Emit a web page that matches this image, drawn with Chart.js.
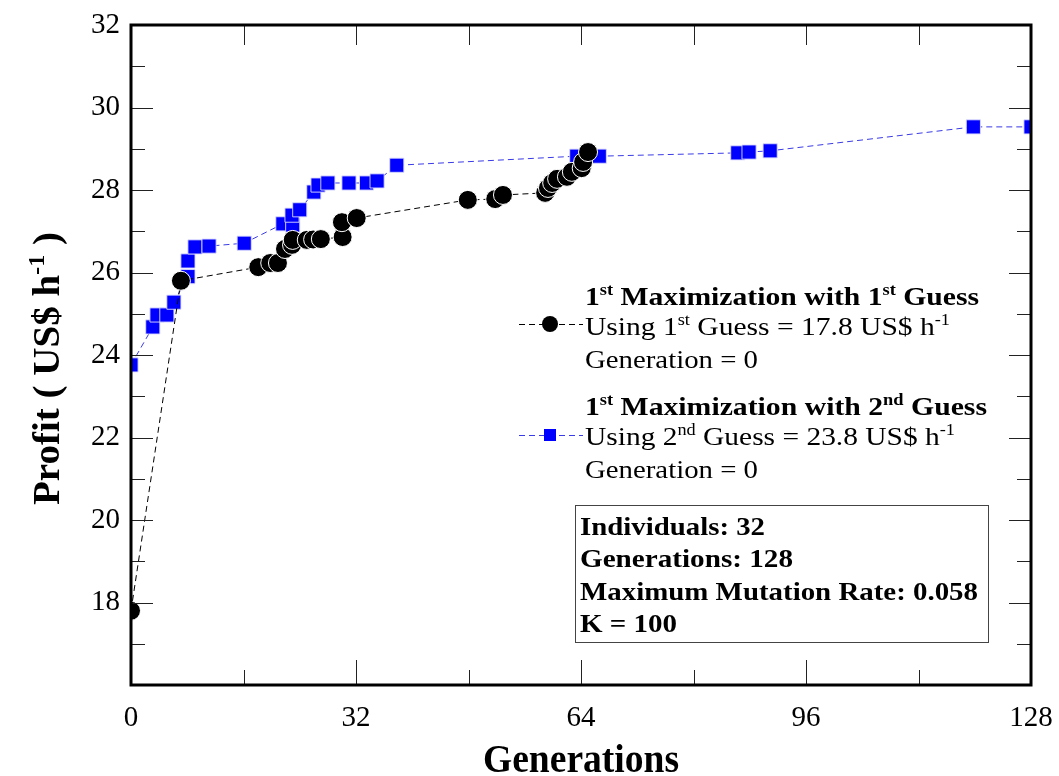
<!DOCTYPE html>
<html>
<head>
<meta charset="utf-8">
<title>Profit vs Generations</title>
<script src="https://cdn.jsdelivr.net/npm/chart.js@4.4.1/dist/chart.umd.min.js"></script>
<style>
    html, body { margin: 0; padding: 0; background: #fff; }
    #wrap { width: 1059px; height: 776px; }
</style>
</head>
<body>
<div id="wrap"><canvas id="profitChart" width="1059" height="776"></canvas></div>
<script>
// 1st maximization, started from the 1st guess (17.8 US$/h)
const gen1st = [0, 7.1, 18.1, 19.8, 20.9, 21.9, 22.9, 23.0, 25.0, 25.9, 27.0, 30.1, 30.0, 32.1,
    47.9, 51.8, 52.9, 58.9, 59.3, 59.9, 60.6, 62.0, 62.7, 64.1, 64.3, 65.0];
const profit1st = [17.8, 25.8, 26.13, 26.23, 26.23, 26.57, 26.67, 26.79, 26.79, 26.8, 26.81, 26.86, 27.22, 27.32,
    27.76, 27.78, 27.88, 27.93, 28.05, 28.17, 28.27, 28.32, 28.44, 28.53, 28.68, 28.92];

// 1st maximization, started from the 2nd guess (23.8 US$/h)
const gen2nd = [0, 3.1, 3.7, 5.1, 6.1, 8.1, 8.1, 9.1, 11.1, 16.1, 21.6, 23.0, 22.9, 24.0, 26.0, 26.6, 28.0,
    31.0, 33.5, 35.0, 37.8, 63.4, 66.6, 86.3, 87.9, 90.9, 119.8, 128];
const profit2nd = [23.76, 24.68, 24.97, 24.97, 25.28, 25.9, 26.28, 26.62, 26.64, 26.71, 27.18, 27.15, 27.39, 27.52,
    27.95, 28.12, 28.17, 28.17, 28.17, 28.22, 28.6, 28.82, 28.82, 28.9, 28.92, 28.95, 29.53, 29.53];

// axis tick labels
const xTicks = [0, 32, 64, 96, 128];
const yTicks = [18, 20, 22, 24, 26, 28, 30, 32];

const SERIF = '"Liberation Serif", "Times New Roman", serif';

// turns "1^{st} Guess" into [{t:'1'},{t:'st',sup:true},{t:' Guess'}]
function parseRich(str) {
    const parts = [];
    const re = /\^\{([^}]*)\}/g;
    let last = 0, m;
    while ((m = re.exec(str)) !== null) {
        if (m.index > last) parts.push({ t: str.slice(last, m.index) });
        parts.push({ t: m[1], sup: true });
        last = re.lastIndex;
    }
    if (last < str.length) parts.push({ t: str.slice(last) });
    return parts;
}

// draws text with superscripts, squeezed to a width if one is given
function drawRich(ctx, str, x, y, size, bold, width) {
    const parts = parseRich(str);
    const fontOf = p => (bold ? 'bold ' : '') + (p.sup ? size * 0.62 : size) + 'px ' + SERIF;
    const widths = parts.map(p => { ctx.font = fontOf(p); return ctx.measureText(p.t).width; });
    const total = widths.reduce((a, b) => a + b, 0);
    const sx = width ? width / total : 1;
    ctx.save();
    ctx.translate(x, y);
    ctx.scale(sx, 1);
    ctx.textAlign = 'left';
    ctx.textBaseline = 'alphabetic';
    ctx.fillStyle = '#000';
    let cx = 0;
    parts.forEach((p, i) => {
        ctx.font = fontOf(p);
        ctx.fillText(p.t, cx, p.sup ? -size * 0.4 : 0);
        cx += widths[i];
    });
    ctx.restore();
}

// frame, inward ticks, axis titles, legend and info box
const decorations = {
    id: 'decorations',
    afterDatasetsDraw(chart) {
        const ctx = chart.ctx;
        const area = chart.chartArea;
        const xs = chart.scales.x, ys = chart.scales.y;

        ctx.save();
        ctx.strokeStyle = '#222';
        ctx.lineWidth = 1;
        ctx.beginPath();
        for (let v = 17; v < 32; v++) {
            const py = Math.round(ys.getPixelForValue(v)) + 0.5;
            const len = v % 2 === 0 ? 22 : 14;
            ctx.moveTo(area.left, py); ctx.lineTo(area.left + len, py);
            ctx.moveTo(area.right, py); ctx.lineTo(area.right - len, py);
        }
        for (let v = 16; v < 128; v += 16) {
            const px = Math.round(xs.getPixelForValue(v)) + 0.5;
            const len = v % 32 === 0 ? 25 : 15;
            ctx.moveTo(px, area.bottom); ctx.lineTo(px, area.bottom - len);
            ctx.moveTo(px, area.top); ctx.lineTo(px, area.top + 20);
        }
        ctx.stroke();

        ctx.strokeStyle = '#000';
        ctx.lineWidth = 3;
        ctx.strokeRect(area.left, area.top, area.right - area.left, area.bottom - area.top);
        ctx.restore();

        // axis titles
        drawRich(ctx, 'Generations', (area.left + area.right) / 2 - 98, 772, 40, true, 196);
        ctx.save();
        ctx.translate(59, 505);
        ctx.rotate(-Math.PI / 2);
        drawRich(ctx, 'Profit ( US$ h^{-1} )', 0, 0, 38, true, 273);
        ctx.restore();

        // legend
        drawRich(ctx, '1^{st} Maximization with 1^{st} Guess', 585, 305, 26, true, 394);
        drawRich(ctx, 'Using 1^{st} Guess = 17.8 US$ h^{-1}', 585, 335, 26, false, 365);
        drawRich(ctx, 'Generation = 0', 585, 368, 26, false, 173);
        drawRich(ctx, '1^{st} Maximization with 2^{nd} Guess', 585, 415, 26, true, 402);
        drawRich(ctx, 'Using 2^{nd} Guess = 23.8 US$ h^{-1}', 585, 445, 26, false, 370);
        drawRich(ctx, 'Generation = 0', 585, 478, 26, false, 173);

        ctx.save();
        ctx.lineWidth = 1;
        ctx.setLineDash([6, 4]);
        ctx.strokeStyle = '#000';
        ctx.beginPath(); ctx.moveTo(519, 324.5); ctx.lineTo(583, 324.5); ctx.stroke();
        ctx.strokeStyle = '#3a3ae6';
        ctx.beginPath(); ctx.moveTo(519, 435.5); ctx.lineTo(583, 435.5); ctx.stroke();
        ctx.setLineDash([]);
        ctx.fillStyle = '#000';
        ctx.beginPath(); ctx.arc(550, 324, 8, 0, Math.PI * 2); ctx.fill();
        ctx.fillStyle = '#0000ff';
        ctx.fillRect(544, 429, 12, 12);
        ctx.restore();

        // run settings box
        ctx.save();
        ctx.strokeStyle = '#444';
        ctx.lineWidth = 1;
        ctx.strokeRect(575.5, 505.5, 413, 137);
        ctx.restore();
        drawRich(ctx, 'Individuals: 32', 580, 535, 26, true, 185);
        drawRich(ctx, 'Generations: 128', 580, 567, 26, true, 213);
        drawRich(ctx, 'Maximum Mutation Rate: 0.058', 580, 600, 26, true, 398);
        drawRich(ctx, 'K = 100', 580, 632, 26, true, 97);
    }
};

const ctx = document.getElementById('profitChart').getContext('2d');
new Chart(ctx, {
    type: 'line',
    data: {
        datasets: [{
            label: '1st Maximization with 1st Guess',
            data: gen1st.map((g, i) => ({ x: g, y: profit1st[i] })),
            borderColor: '#000',
            borderWidth: 1,
            borderDash: [6, 4],
            pointStyle: 'circle',
            pointRadius: 9.5,
            pointBackgroundColor: '#000',
            pointBorderColor: '#fff',
            pointBorderWidth: 1,
            clip: 0,
            tension: 0
        }, {
            label: '1st Maximization with 2nd Guess',
            data: gen2nd.map((g, i) => ({ x: g, y: profit2nd[i] })),
            borderColor: '#3a3ae6',
            borderWidth: 1,
            borderDash: [6, 4],
            pointStyle: 'rect',
            pointRadius: 10,
            pointBackgroundColor: '#0000ff',
            pointBorderColor: 'rgba(220,220,255,0.9)',
            pointBorderWidth: 1,
            clip: 0,
            tension: 0
        }]
    },
    options: {
        responsive: false,
        animation: false,
        devicePixelRatio: 1,
        layout: { padding: { top: 25, right: 28, left: 0, bottom: 0 } },
        plugins: {
            legend: { display: false },
            tooltip: { enabled: false }
        },
        scales: {
            x: {
                type: 'linear',
                min: 0,
                max: 128,
                afterBuildTicks: scale => { scale.ticks = xTicks.map(v => ({ value: v })); },
                afterFit: scale => {
                    scale.height = 91;
                    scale.paddingLeft = 0;
                    scale.paddingRight = 0;
                },
                grid: { display: false },
                border: { display: false },
                ticks: {
                    color: '#000',
                    padding: 8,
                    maxRotation: 0,
                    font: { family: SERIF, size: 29 }
                }
            },
            y: {
                type: 'linear',
                min: 16,
                max: 32,
                afterBuildTicks: scale => { scale.ticks = yTicks.map(v => ({ value: v })); },
                afterFit: scale => {
                    scale.width = 131;
                    scale.paddingTop = 0;
                    scale.paddingBottom = 0;
                },
                grid: { display: false },
                border: { display: false },
                ticks: {
                    color: '#000',
                    padding: 3,
                    font: { family: SERIF, size: 29 }
                }
            }
        }
    },
    plugins: [decorations]
});
</script>
</body>
</html>
